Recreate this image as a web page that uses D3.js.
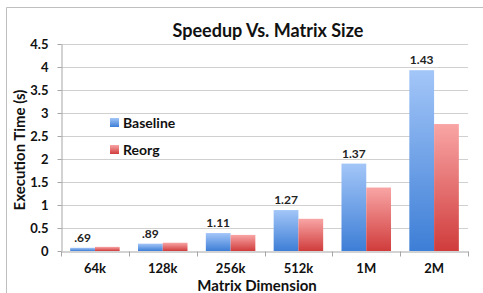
<!DOCTYPE html>
<html lang="en">
<head>
<meta charset="utf-8">
<title>Speedup Vs. Matrix Size</title>
<script src="https://cdn.jsdelivr.net/npm/d3@7"></script>
<style>
  body { margin: 0; background: #fff; }
  svg { display: block; font-family: Lato, sans-serif; }
</style>
</head>
<body>
<script>
var sizes = ["64k", "128k", "256k", "512k", "1M", "2M"];
var baseline = [0.07, 0.16, 0.39, 0.89, 1.90, 3.93];
var reorg = [0.09, 0.18, 0.35, 0.70, 1.38, 2.76];
var speedups = [".69", ".89", "1.11", "1.27", "1.37", "1.43"];
var yTicks = [0, 0.5, 1, 1.5, 2, 2.5, 3, 3.5, 4, 4.5];

var width = 483, height = 293;
var margin = {top: 44, right: 15, bottom: 42, left: 61};

var svg = d3.select("body").append("svg")
  .attr("width", width)
  .attr("height", height);

var defs = svg.append("defs");
function grad(id, top, bottom) {
  var g = defs.append("linearGradient").attr("id", id)
    .attr("x1", 0).attr("y1", 0).attr("x2", 0).attr("y2", 1);
  g.append("stop").attr("offset", "0%").attr("stop-color", top);
  g.append("stop").attr("offset", "100%").attr("stop-color", bottom);
}
grad("blueGrad", "#a3c6f8", "#3d7ed6");
grad("redGrad", "#f9a5a5", "#d03c3c");

// frame (only top and left edges show in the crop)
svg.append("path")
  .attr("d", "M6.5," + height + "V7.5H" + width)
  .attr("fill", "none").attr("stroke", "#bfbfbf");

var x = d3.scaleBand()
  .domain(sizes)
  .range([margin.left, width - margin.right]);

var y = d3.scaleLinear()
  .domain([0, 4.5])
  .range([height - margin.bottom, margin.top]);

var inner = d3.scaleBand()
  .domain(["baseline", "reorg"])
  .range([0, x.bandwidth()])
  .paddingOuter(0.37)
  .paddingInner(0);

// gridlines
svg.append("g")
  .selectAll("line")
  .data(yTicks.slice(1))
  .join("line")
  .attr("x1", margin.left).attr("x2", width - margin.right)
  .attr("y1", d => Math.round(y(d)) + 0.5)
  .attr("y2", d => Math.round(y(d)) + 0.5)
  .attr("stroke", "#d0d0d0");

var rows = sizes.map((s, i) => ({size: s, baseline: baseline[i], reorg: reorg[i], label: speedups[i]}));

// bars
svg.append("g").selectAll("rect")
  .data(rows)
  .join("rect")
  .attr("x", d => x(d.size) + inner("baseline"))
  .attr("y", d => y(d.baseline))
  .attr("width", inner.bandwidth())
  .attr("height", d => y(0) - y(d.baseline))
  .attr("fill", "url(#blueGrad)");

svg.append("g").selectAll("rect")
  .data(rows)
  .join("rect")
  .attr("x", d => x(d.size) + inner("reorg"))
  .attr("y", d => y(d.reorg))
  .attr("width", inner.bandwidth())
  .attr("height", d => y(0) - y(d.reorg))
  .attr("fill", "url(#redGrad)");

// speedup labels
svg.append("g").selectAll("text")
  .data(rows)
  .join("text")
  .attr("x", d => x(d.size) + inner("baseline") + inner.bandwidth() / 2)
  .attr("y", d => y(d.baseline) - 6)
  .attr("text-anchor", "middle")
  .attr("font-size", 12)
  .attr("font-weight", "bold")
  .attr("fill", "#222")
  .text(d => d.label);

// x axis
var xAxis = svg.append("g")
  .attr("transform", "translate(0," + (y(0) + 0.5) + ")")
  .call(d3.axisBottom(x).tickSizeInner(0).tickSizeOuter(0).tickPadding(12));
xAxis.select(".domain").attr("stroke", "#a6a6a6");
xAxis.selectAll("text").attr("font-size", 13).attr("font-weight", "bold").attr("fill", "#111")
  .attr("font-family", "Lato, sans-serif");
xAxis.selectAll(".sep")
  .data(sizes.concat(["end"]))
  .join("line")
  .attr("class", "sep")
  .attr("x1", (d, i) => Math.round(margin.left + i * x.step()) + 0.5)
  .attr("x2", (d, i) => Math.round(margin.left + i * x.step()) + 0.5)
  .attr("y1", 0).attr("y2", 5)
  .attr("stroke", "#a6a6a6");

// y axis
var yAxis = svg.append("g")
  .attr("transform", "translate(" + (margin.left + 0.5) + ",0)")
  .call(d3.axisLeft(y).tickValues(yTicks).tickFormat(d3.format("")).tickSizeInner(4).tickSizeOuter(0).tickPadding(9));
yAxis.select(".domain").attr("stroke", "#a6a6a6");
yAxis.selectAll(".tick line").attr("stroke", "#a6a6a6");
yAxis.selectAll("text").attr("font-size", 13).attr("font-weight", "bold").attr("fill", "#111")
  .attr("font-family", "Lato, sans-serif");

// title
svg.append("text")
  .attr("x", 268).attr("y", 37)
  .attr("text-anchor", "middle")
  .attr("font-size", 18)
  .attr("font-weight", "bold")
  .attr("fill", "#111")
  .text("Speedup Vs. Matrix Size");

// axis titles
svg.append("text")
  .attr("transform", "translate(25,150) rotate(-90)")
  .attr("text-anchor", "middle")
  .attr("font-size", 15)
  .attr("font-weight", "bold")
  .attr("fill", "#111")
  .text("Execution Time (s)");

svg.append("text")
  .attr("x", 257).attr("y", 291)
  .attr("text-anchor", "middle")
  .attr("font-size", 15)
  .attr("font-weight", "bold")
  .attr("fill", "#111")
  .text("Matrix Dimension");

// legend
var legend = svg.append("g").selectAll("g")
  .data([{name: "Baseline", fill: "url(#blueGrad)"}, {name: "Reorg", fill: "url(#redGrad)"}])
  .join("g")
  .attr("transform", (d, i) => "translate(110," + (118 + i * 27) + ")");
legend.append("rect")
  .attr("width", 9).attr("height", 9)
  .attr("fill", d => d.fill);
legend.append("text")
  .attr("x", 13).attr("y", 9.5)
  .attr("font-size", 14)
  .attr("font-weight", "bold")
  .attr("fill", "#111")
  .text(d => d.name);
</script>
</body>
</html>
